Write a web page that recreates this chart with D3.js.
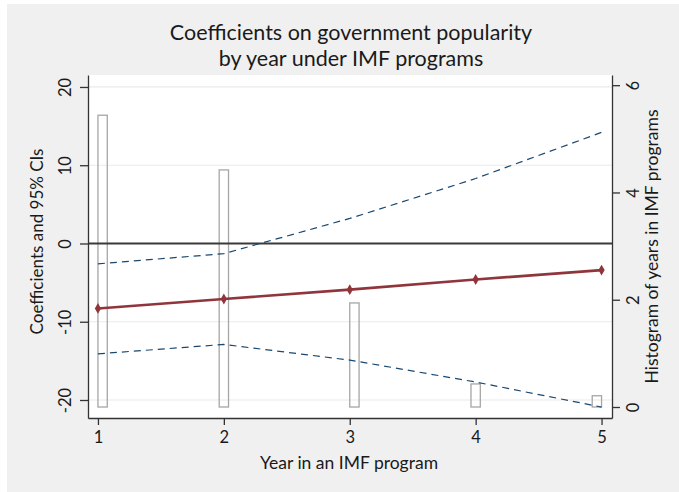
<!DOCTYPE html>
<html>
<head>
<meta charset="utf-8">
<script src="https://cdn.jsdelivr.net/npm/d3@7"></script>
<style>
  html, body { margin: 0; padding: 0; background: #ffffff; }
  svg { display: block; }
  text { font-family: Lato, "Open Sans", sans-serif; fill: #1a1a1a; }
</style>
</head>
<body>
<svg id="chart" width="679" height="492"></svg>
<script>
// ---- data ----
const years = [1, 2, 3, 4, 5];
const coef = [-8.3, -7.1, -5.9, -4.6, -3.4];
const ciUpper = [-2.6, -1.3, 3.2, 8.3, 14.2];
const ciLower = [-14.1, -12.9, -14.9, -17.7, -20.9];
const histDensity = [5.44, 4.42, 1.94, 0.43, 0.21];
const histBins = 54;
const xTicks = [1, 2, 3, 4, 5];
const yTicks = [-20, -10, 0, 10, 20];
const y2Ticks = [0, 2, 4, 6];
const titleLines = ["Coefficients on government popularity", "by year under IMF programs"];
const xTitle = "Year in an IMF program";
const yTitle = "Coefficients and 95% CIs";
const y2Title = "Histogram of years in IMF programs";

// ---- layout ----
const W = 679, H = 492;
const plot = { left: 88, right: 612, top: 75, bottom: 418 };

const svg = d3.select("#chart");

svg.append("rect").attr("x", 7).attr("y", 4).attr("width", W - 7).attr("height", H - 4)
  .attr("fill", "#f0f0f0");
svg.append("rect").attr("x", plot.left).attr("y", plot.top)
  .attr("width", plot.right - plot.left).attr("height", plot.bottom - plot.top)
  .attr("fill", "#ffffff");

const x = d3.scaleLinear().domain([0.921, 5.083]).range([plot.left, plot.right]);
const y = d3.scaleLinear().domain([-22.3, 21.53]).range([plot.bottom, plot.top]);
const y2 = d3.scaleLinear().domain([-0.205, 6.19]).range([plot.bottom, plot.top]);

// gridlines
svg.append("g").selectAll("line").data(yTicks.filter(d => d !== 0)).join("line")
  .attr("x1", plot.left).attr("x2", plot.right)
  .attr("y1", d => y(d)).attr("y2", d => y(d))
  .attr("stroke", "#eaeaea").attr("stroke-width", 1.2);

// histogram bars
const binW = (years[years.length - 1] - years[0]) / histBins;
const binStart = yr => {
  const k = Math.min(Math.floor((yr - years[0]) / binW + 1e-9), histBins - 1);
  return years[0] + k * binW;
};
svg.append("g").selectAll("rect").data(years).join("rect")
  .attr("x", (d) => x(binStart(d)))
  .attr("width", d => x(binStart(d) + binW) - x(binStart(d)))
  .attr("y", (d, i) => y2(histDensity[i]))
  .attr("height", (d, i) => y2(0) - y2(histDensity[i]))
  .attr("fill", "none").attr("stroke", "#a6a6a6").attr("stroke-width", 1.3);

// zero line
svg.append("line").attr("x1", plot.left).attr("x2", plot.right)
  .attr("y1", y(0)).attr("y2", y(0))
  .attr("stroke", "#3a3a3a").attr("stroke-width", 2);

// CI lines
const lineGen = d3.line().x(d => x(d[0])).y(d => y(d[1]));
[ciUpper, ciLower].forEach(ci => {
  svg.append("path").datum(years.map((yr, i) => [yr, ci[i]]))
    .attr("d", lineGen).attr("fill", "none")
    .attr("stroke", "#1a476f").attr("stroke-width", 1.2)
    .attr("stroke-dasharray", "7,5");
});

// coefficient line
svg.append("path").datum(years.map((yr, i) => [yr, coef[i]]))
  .attr("d", lineGen).attr("fill", "none")
  .attr("stroke", "#90353b").attr("stroke-width", 2.6);
svg.append("g").selectAll("path").data(years).join("path")
  .attr("transform", (d, i) => `translate(${x(d)},${y(coef[i])})`)
  .attr("d", d3.symbol(d3.symbolDiamond, 34))
  .attr("fill", "#90353b");

// axes
const axisColor = "#333333";
const fmt = d => String(d);
function styleAxis(g) {
  g.selectAll(".domain").attr("stroke", axisColor).attr("stroke-width", 1.3);
  g.selectAll(".tick line").attr("stroke", axisColor).attr("stroke-width", 1.3);
  g.selectAll(".tick text").style("font-size", "16.5px").attr("fill", "#1a1a1a");
}

const gx = svg.append("g").attr("transform", `translate(0,${plot.bottom})`)
  .call(d3.axisBottom(x).tickValues(xTicks).tickFormat(fmt).tickSize(7).tickSizeOuter(0).tickPadding(6));
styleAxis(gx);

const gy = svg.append("g").attr("transform", `translate(${plot.left},0)`)
  .call(d3.axisLeft(y).tickValues(yTicks).tickFormat(fmt).tickSize(8).tickSizeOuter(0));
styleAxis(gy);
gy.selectAll(".tick text")
  .attr("x", 0).attr("dy", null)
  .attr("text-anchor", "middle").attr("dominant-baseline", "central")
  .attr("transform", "translate(-23,0) rotate(-90)");

const gy2 = svg.append("g").attr("transform", `translate(${plot.right},0)`)
  .call(d3.axisRight(y2).tickValues(y2Ticks).tickFormat(fmt).tickSize(8).tickSizeOuter(0));
styleAxis(gy2);
gy2.selectAll(".tick text")
  .attr("x", 0).attr("dy", null)
  .attr("text-anchor", "middle").attr("dominant-baseline", "central")
  .attr("transform", "translate(21,0) rotate(-90)");

// titles
svg.append("g").selectAll("text").data(titleLines).join("text")
  .attr("x", 351).attr("y", (d, i) => 40 + i * 26)
  .attr("text-anchor", "middle").style("font-size", "21.5px").text(d => d);

svg.append("text").attr("x", 349).attr("y", 469)
  .attr("text-anchor", "middle").style("font-size", "17.5px").text(xTitle);

svg.append("text").attr("transform", `translate(36,${(plot.top + plot.bottom) / 2 - 5}) rotate(-90)`)
  .attr("text-anchor", "middle").attr("dominant-baseline", "central")
  .style("font-size", "17px").text(yTitle);

svg.append("text").attr("transform", `translate(651,${(plot.top + plot.bottom) / 2}) rotate(-90)`)
  .attr("text-anchor", "middle").attr("dominant-baseline", "central")
  .style("font-size", "17.5px").text(y2Title);
</script>
</body>
</html>
